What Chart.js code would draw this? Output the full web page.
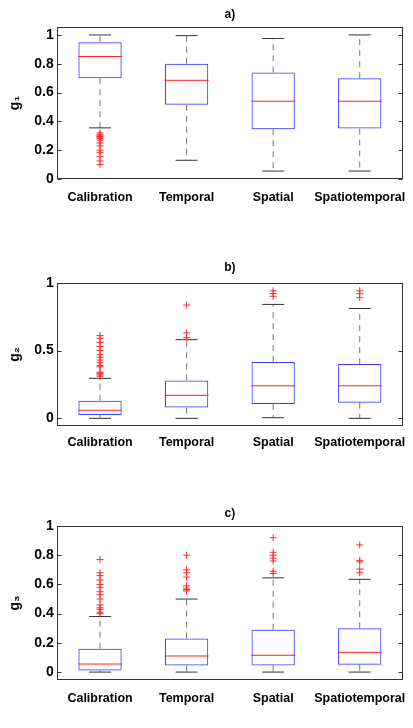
<!DOCTYPE html>
<html><head><meta charset="utf-8">
<script src="https://cdn.jsdelivr.net/npm/chart.js@4"></script>
<style>
html,body{margin:0;padding:0;background:#fff;width:413px;height:728px;overflow:hidden}
.p{position:absolute;left:0;width:413px}
</style></head><body>
<div class="p" style="top:0;height:222px"><canvas id="ca"></canvas></div>
<div class="p" style="top:243px;height:222px"><canvas id="cb"></canvas></div>
<div class="p" style="top:486px;height:242px"><canvas id="cc"></canvas></div>
<script>
// ---------- DATA ----------
const categories = ['Calibration', 'Temporal', 'Spatial', 'Spatiotemporal'];

// a) g1
const g1Low  = [0.355, 0.13, 0.055, 0.055];
const g1Q1   = [0.70, 0.515, 0.345, 0.35];
const g1Med  = [0.85, 0.685, 0.54, 0.54];
const g1Q3   = [0.95, 0.80, 0.74, 0.70];
const g1High = [1.0, 0.995, 0.975, 1.0];
const g1Out  = [[0.32, 0.31, 0.30, 0.295, 0.29, 0.28, 0.27, 0.25, 0.23, 0.20, 0.185, 0.155, 0.125, 0.10], [], [], []];
const g1Ticks = [0, 0.2, 0.4, 0.6, 0.8, 1];

// b) g2
const g2Low  = [0.0, 0.0, 0.005, 0.0];
const g2Q1   = [0.025, 0.08, 0.105, 0.115];
const g2Med  = [0.06, 0.17, 0.24, 0.24];
const g2Q3   = [0.13, 0.28, 0.415, 0.40];
const g2High = [0.295, 0.58, 0.84, 0.81];
const g2Out  = [[0.61, 0.59, 0.56, 0.53, 0.50, 0.47, 0.45, 0.43, 0.41, 0.39, 0.38, 0.34, 0.33, 0.32, 0.31],
                [0.835, 0.63, 0.595],
                [0.94, 0.92, 0.90],
                [0.94, 0.92, 0.89]];
const g2Ticks = [0, 0.5, 1];

// c) g3
const g3Low  = [0.0, 0.0, 0.0, 0.0];
const g3Q1   = [0.01, 0.045, 0.045, 0.05];
const g3Med  = [0.055, 0.11, 0.115, 0.135];
const g3Q3   = [0.16, 0.23, 0.29, 0.30];
const g3High = [0.38, 0.50, 0.645, 0.635];
const g3Out  = [[0.77, 0.68, 0.66, 0.63, 0.60, 0.58, 0.55, 0.53, 0.50, 0.46, 0.44, 0.43, 0.41, 0.40],
                [0.80, 0.70, 0.68, 0.65, 0.59, 0.575, 0.565, 0.555],
                [0.92, 0.82, 0.80, 0.78, 0.76, 0.69, 0.675],
                [0.87, 0.765, 0.755, 0.705, 0.68]];
const g3Ticks = [0, 0.2, 0.4, 0.6, 0.8, 1];

// ---------- STYLE ----------
Chart.defaults.font.family = "'Liberation Sans', Arial, sans-serif";
Chart.defaults.color = '#000';

const framePlugin = {
  id: 'frame',
  afterDraw(chart) {
    const {ctx, chartArea: a} = chart;
    const y = chart.scales.y;
    ctx.save();
    ctx.strokeStyle = '#333';
    ctx.lineWidth = 1;
    const l = Math.round(a.left) + 0.5, r = Math.round(a.right) - 0.5;
    const t = Math.round(a.top) + 0.5, b = Math.round(a.bottom) - 0.5;
    ctx.strokeRect(l, t, r - l, b - t);
    ctx.beginPath();
    y.ticks.forEach(tk => {
      const py = Math.round(y.getPixelForValue(tk.value)) + 0.5;
      ctx.moveTo(l, py); ctx.lineTo(l + 4, py);
      ctx.moveTo(r, py); ctx.lineTo(r - 4, py);
    });
    ctx.stroke();
    ctx.restore();
  }
};

function makePanel(id, title, yLabel, low, q1, med, q3, high, out, tickVals, yMin, yMax, lay) {
  const whisk = [], caps = [], meds = [], outs = [];
  categories.forEach((c, i) => {
    whisk.push({x: c, y: q3[i]}, {x: c, y: high[i]}, {x: c, y: null},
               {x: c, y: q1[i]}, {x: c, y: low[i]}, {x: c, y: null});
    caps.push({x: c, y: high[i]}, {x: c, y: low[i]});
    meds.push({x: c, y: med[i]});
    out[i].forEach(v => outs.push({x: c, y: v}));
  });
  new Chart(document.getElementById(id), {
    type: 'bar',
    data: {
      labels: categories,
      datasets: [
        { type: 'bar', data: categories.map((c, i) => [q1[i], q3[i]]),
          backgroundColor: 'rgba(255,255,255,0)', borderColor: '#3a3aff', borderWidth: 1,
          borderSkipped: false, barPercentage: 0.5, categoryPercentage: 1.0, order: 5 },
        { type: 'line', data: whisk, borderColor: '#777', borderWidth: 1, borderDash: [6, 5],
          pointRadius: 0, spanGaps: false, order: 4 },
        { type: 'line', data: caps, showLine: false, pointStyle: 'line', pointRadius: 11,
          pointHoverRadius: 11, pointBorderColor: '#333', pointBorderWidth: 1, order: 3 },
        { type: 'line', data: meds, showLine: false, pointStyle: 'line', pointRadius: 22,
          pointHoverRadius: 22, pointBorderColor: '#ff2020', pointBorderWidth: 1, order: 2 },
        { type: 'line', data: outs, showLine: false, pointStyle: 'cross', pointRadius: 3.5,
          pointHoverRadius: 3.5, pointBorderColor: '#ff2a2a', pointBorderWidth: 1, order: 1 }
      ]
    },
    options: {
      responsive: true, maintainAspectRatio: false, animation: false, events: [],
      layout: { autoPadding: false, padding: { left: 0, right: 10, top: 0, bottom: lay.bottom } },
      plugins: {
        legend: { display: false }, tooltip: { enabled: false },
        title: { display: true, fullSize: false, text: title, font: { size: 12, weight: 'bold' }, color: '#000',
                 padding: { top: lay.tTop, bottom: lay.tBottom } }
      },
      scales: {
        x: {
          type: 'category', offset: true,
          grid: { display: false, drawTicks: false }, border: { display: false },
          afterFit: s => { s.paddingLeft = 0; s.paddingRight = 0; },
          ticks: { font: { size: 12.5, weight: 'bold' }, color: '#000', padding: lay.xPad,
                   maxRotation: 0, autoSkip: false }
        },
        y: {
          min: yMin, max: yMax,
          grid: { display: false, drawTicks: false }, border: { display: false },
          afterBuildTicks: s => { s.ticks = tickVals.map(v => ({ value: v })); },
          ticks: { font: { size: 14, weight: 'bold' }, color: '#000', padding: 3,
                   callback: v => String(v) },
          title: { display: true, text: yLabel, font: { size: 14, weight: 'bold' }, color: '#000',
                   padding: { top: 7, bottom: 7.5 } }
        }
      }
    },
    plugins: [framePlugin]
  });
}

makePanel('ca', 'a)', 'g\u2081', g1Low, g1Q1, g1Med, g1Q3, g1High, g1Out, g1Ticks, 0, 1.055,
          { tTop: 7, tBottom: 5.6, xPad: 11, bottom: 6 });
makePanel('cb', 'b)', 'g\u2082', g2Low, g2Q1, g2Med, g2Q3, g2High, g2Out, g2Ticks, -0.057, 1,
          { tTop: 17.5, tBottom: 7.8, xPad: 8.9, bottom: 6.1 });
makePanel('cc', 'c)', 'g\u2083', g3Low, g3Q1, g3Med, g3Q3, g3High, g3Out, g3Ticks, -0.055, 1,
          { tTop: 20.8, tBottom: 4.8, xPad: 11.3, bottom: 10.3 });
</script>
</body></html>
